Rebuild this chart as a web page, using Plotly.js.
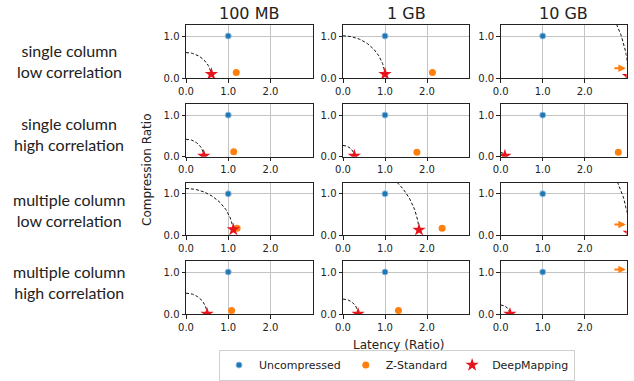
<!DOCTYPE html>
<html>
<head>
<meta charset="utf-8">
<script src="https://cdn.plot.ly/plotly-3.0.1.min.js"></script>
<style>html,body{margin:0;padding:0;background:#fff;}#chart{width:634px;height:381px;}</style>
</head>
<body>
<div id="chart"></div>
<script>
// ---- data ----
const colTitles = ['100 MB', '1 GB', '10 GB'];
const rowLabels = ['single column<br>low correlation', 'single column<br>high correlation',
                   'multiple column<br>low correlation', 'multiple column<br>high correlation'];
const seriesNames = ['Uncompressed', 'Z-Standard', 'DeepMapping'];
const xTicks = [0, 1, 2];
const yTicks = [0, 1];
// rows x columns (latency ratio, compression ratio)
const uncompLatency = [[1, 1, 1], [1, 1, 1], [1, 1, 1], [1, 1, 1]];
const uncompRatio   = [[1, 1, 1], [1, 1, 1], [1, 1, 1], [1, 1, 1]];
// values beyond the latency axis (10 GB) are off-scale estimates
const zstdLatency = [[1.19, 2.13, 3.6], [1.13, 1.76, 2.8], [1.21, 2.36, 3.6], [1.08, 1.32, 3.6]];
const zstdRatio   = [[0.14, 0.14, 0.24], [0.12, 0.11, 0.11], [0.17, 0.17, 0.26], [0.09, 0.09, 1.06]];
const dmLatency = [[0.60, 1.00, 3.04], [0.42, 0.27, 0.10], [1.12, 1.81, 3.06], [0.50, 0.36, 0.22]];
const dmRatio   = [[0.10, 0.10, 0.05], [0.02, 0.02, 0.02], [0.14, 0.13, 0.06], [0.01, 0.01, 0.01]];

// ---- layout geometry (pixels) ----
const W = 634, H = 381;
const colPx = [[186, 312.7], [343, 469], [500.7, 626.7]];
const rowPx = [[25, 78.3], [104.3, 156.7], [183, 235.3], [261, 314.3]];
const xMax = 3.0, yMax = 1.26;
const colors = {unc: '#1f77b4', zstd: '#ff7f0e', dm: '#e8141b'};

const traces = [];
const layout = {
  width: W, height: H,
  margin: {l: 0, r: 0, t: 0, b: 0},
  paper_bgcolor: '#fff', plot_bgcolor: '#fff',
  font: {family: 'DejaVu Sans', size: 10, color: '#222'},
  showlegend: true,
  legend: {
    orientation: 'h', x: 397 / W, xanchor: 'center', y: 1 - 380.5 / H, yanchor: 'bottom',
    bordercolor: '#d0d0d0', borderwidth: 1, font: {family: 'DejaVu Sans', size: 11, color: '#222'},
    bgcolor: '#fff', tracegroupgap: 0, itemwidth: 30
  },
  annotations: [], shapes: []
};

function arc(x, y) {
  const r = Math.hypot(x, y);
  const t1 = Math.atan2(y, x);
  const xs = [], ys = [];
  const n = 80;
  for (let i = 0; i <= n; i++) {
    const t = Math.PI / 2 + (t1 - Math.PI / 2) * i / n;
    xs.push(r * Math.cos(t)); ys.push(r * Math.sin(t));
  }
  return {xs, ys};
}

let k = 0;
for (let r = 0; r < 4; r++) {
  for (let c = 0; c < 3; c++) {
    k++;
    const xa = 'x' + (k === 1 ? '' : k), ya = 'y' + (k === 1 ? '' : k);
    const xKey = 'xaxis' + (k === 1 ? '' : k), yKey = 'yaxis' + (k === 1 ? '' : k);
    const first = k === 1;
    layout[xKey] = {
      domain: [colPx[c][0] / W, colPx[c][1] / W], anchor: ya, range: [0, xMax],
      tickvals: xTicks, tickformat: '.1f', ticks: 'outside', ticklen: 3.5, tickwidth: 1, tickcolor: '#222',
      showgrid: true, gridcolor: '#c4c4c4', gridwidth: 1, zeroline: false,
      showline: true, mirror: true, linecolor: '#222', linewidth: 1,
      tickfont: {family: 'DejaVu Sans', size: 10, color: '#222'}, fixedrange: true
    };
    layout[yKey] = {
      domain: [1 - rowPx[r][1] / H, 1 - rowPx[r][0] / H], anchor: xa, range: [0, yMax],
      tickvals: yTicks, tickformat: '.1f', ticks: 'outside', ticklen: 3.5, tickwidth: 1, tickcolor: '#222',
      showgrid: true, gridcolor: '#c4c4c4', gridwidth: 1, zeroline: false,
      showline: true, mirror: true, linecolor: '#222', linewidth: 1,
      tickfont: {family: 'DejaVu Sans', size: 10, color: '#222'}, fixedrange: true
    };
    // dashed arc through DeepMapping point
    const a = arc(dmLatency[r][c], dmRatio[r][c]);
    traces.push({x: a.xs, y: a.ys, xaxis: xa, yaxis: ya, mode: 'lines', showlegend: false, hoverinfo: 'skip',
      line: {color: '#111', width: 1, dash: '3px,2px'}});
    traces.push({x: [uncompLatency[r][c]], y: [uncompRatio[r][c]], xaxis: xa, yaxis: ya, mode: 'markers',
      name: seriesNames[0], legendgroup: 'u', showlegend: first, cliponaxis: true,
      marker: {color: colors.unc, size: 6, line: {color: '#8dbadc', width: 1}}});
    traces.push({x: [zstdLatency[r][c]], y: [zstdRatio[r][c]], xaxis: xa, yaxis: ya, mode: 'markers',
      name: seriesNames[1], legendgroup: 'z', showlegend: first, cliponaxis: true,
      marker: {color: colors.zstd, size: 7}});
    traces.push({x: [dmLatency[r][c]], y: [dmRatio[r][c]], xaxis: xa, yaxis: ya, mode: 'markers',
      name: seriesNames[2], legendgroup: 'd', showlegend: first, cliponaxis: true,
      marker: {color: colors.dm, symbol: 'star', size: 10, line: {width: 0}}});
    // off-scale Z-Standard marker -> arrow at right edge
    if (zstdLatency[r][c] > xMax) {
      layout.annotations.push({x: xMax - 0.02, y: zstdRatio[r][c], xref: xa, yref: ya, text: '',
        showarrow: true, arrowhead: 2, arrowsize: 0.75, arrowwidth: 2, arrowcolor: colors.zstd,
        ax: -13, ay: 0, standoff: 0});
    }
  }
}

// column titles
colTitles.forEach((t, c) => {
  layout.annotations.push({text: t, x: (colPx[c][0] + colPx[c][1]) / 2 / W, y: 1 - 14 / H,
    xref: 'paper', yref: 'paper', showarrow: false, xanchor: 'center', yanchor: 'middle',
    font: {family: 'DejaVu Sans', size: 16, color: '#222'}});
});
// row labels
const rowCenters = [61, 134, 209.5, 282];
rowLabels.forEach((t, r) => {
  layout.annotations.push({text: t, x: 69 / W, y: 1 - rowCenters[r] / H,
    xref: 'paper', yref: 'paper', showarrow: false, xanchor: 'center', yanchor: 'middle', align: 'center',
    font: {family: 'Lato', size: 16, color: '#222'}});
});
// axis titles
layout.annotations.push({text: 'Compression Ratio', x: 147 / W, y: 1 - 170 / H, xref: 'paper', yref: 'paper',
  showarrow: false, textangle: -90, xanchor: 'center', yanchor: 'middle',
  font: {family: 'DejaVu Sans', size: 12, color: '#222'}});
layout.annotations.push({text: 'Latency (Ratio)', x: 398 / W, y: 1 - 345 / H, xref: 'paper', yref: 'paper',
  showarrow: false, xanchor: 'center', yanchor: 'middle',
  font: {family: 'DejaVu Sans', size: 12, color: '#222'}});

Plotly.newPlot('chart', traces, layout, {displayModeBar: false, staticPlot: true});
</script>
</body>
</html>
